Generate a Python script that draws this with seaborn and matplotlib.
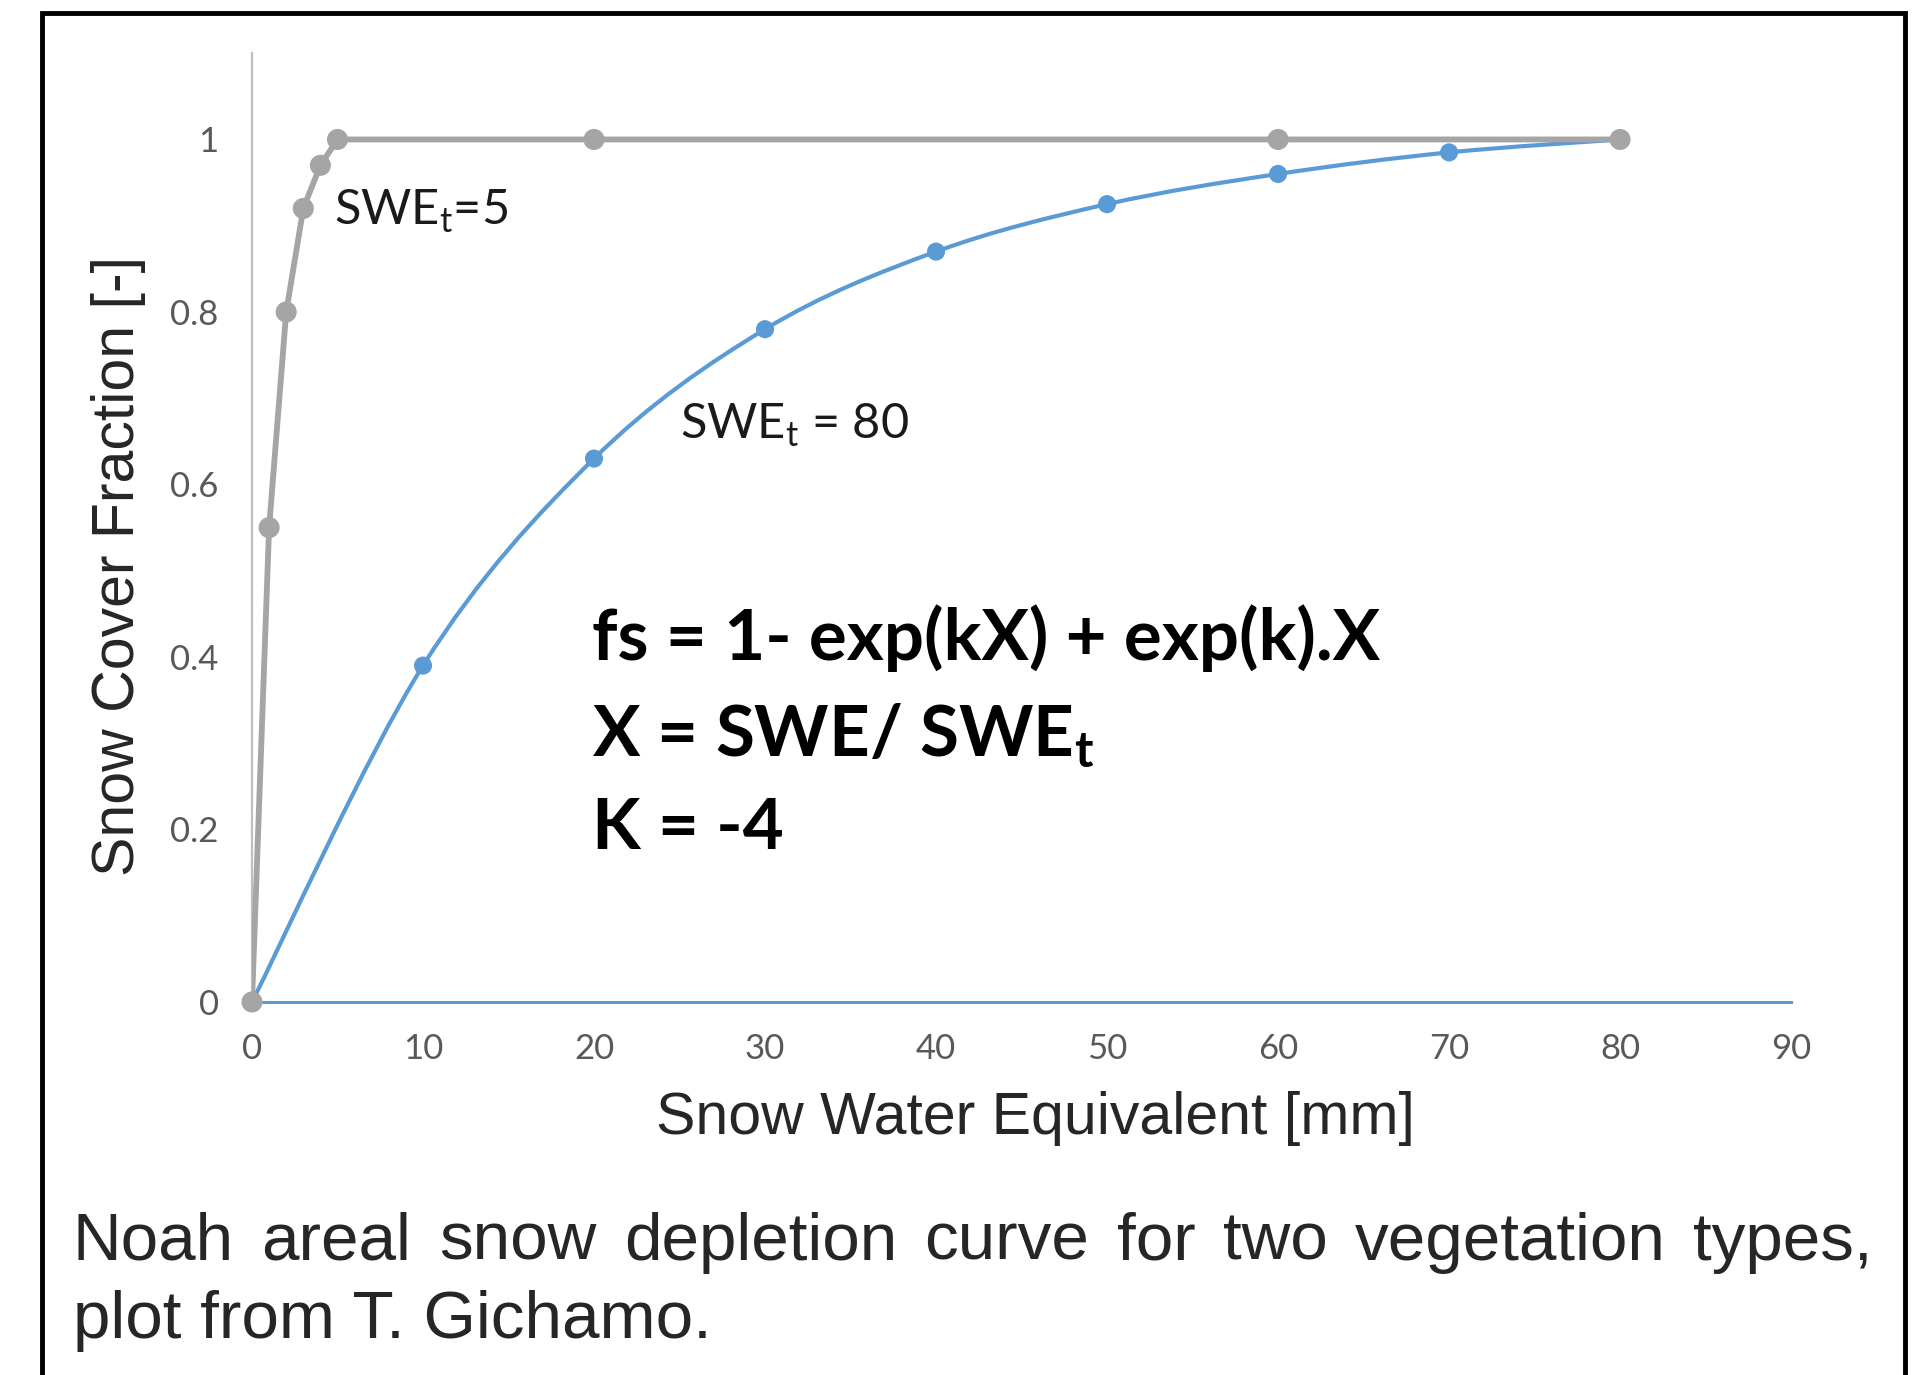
import numpy as np
import pandas as pd
import seaborn as sns
import matplotlib.pyplot as plt
from matplotlib.path import Path
from matplotlib.patches import PathPatch, Rectangle

# values
swe_small = [0, 1, 2, 3, 4, 5, 20, 60, 80]
fsc_small = [0, 0.55, 0.80, 0.92, 0.97, 1.0, 1.0, 1.0, 1.0]
swe_large = [0, 10, 20, 30, 40, 50, 60, 70, 80]
fsc_large = [0, 0.39, 0.63, 0.78, 0.87, 0.925, 0.96, 0.985, 1.0]
x_ticks = [0, 10, 20, 30, 40, 50, 60, 70, 80, 90]
y_ticks = [0, 0.2, 0.4, 0.6, 0.8, 1.0]
y_ticklabels = ["0", "0.2", "0.4", "0.6", "0.8", "1"]

caption1 = "Noah areal snow depletion curve for two vegetation types,"
caption2 = "plot from T. Gichamo."

GRAY = "#a5a5a5"
BLUE = "#5b9bd5"

sns.set_style("white")
plt.rcParams["font.family"] = ["Lato", "DejaVu Sans"]


def smooth_path(xs, ys):
    # excel-like smoothed line (catmull-rom bezier) through the points
    pts = np.column_stack([xs, ys]).astype(float)
    verts = [pts[0]]
    codes = [Path.MOVETO]
    n = len(pts)
    for i in range(n - 1):
        p0 = pts[max(i - 1, 0)]
        p1 = pts[i]
        p2 = pts[i + 1]
        p3 = pts[min(i + 2, n - 1)]
        verts += [p1 + (p2 - p0) / 6, p2 - (p3 - p1) / 6, p2]
        codes += [Path.CURVE4] * 3
    return Path(verts, codes)


fig = plt.figure(figsize=(19.2, 13.75), dpi=100)
ax = fig.add_axes([0.13125, 0.2713, 0.8016, 0.690])

df_large = pd.DataFrame({"swe": swe_large, "fsc": fsc_large})
df_small = pd.DataFrame({"swe": swe_small, "fsc": fsc_small})

# SWEt = 80 curve
ax.add_patch(PathPatch(smooth_path(swe_large, fsc_large), fill=False,
                       edgecolor=BLUE, lw=3.0, zorder=3))
sns.scatterplot(data=df_large, x="swe", y="fsc", ax=ax, color=BLUE, s=170,
                edgecolor="none", zorder=4, clip_on=False)

# SWEt = 5 curve
sns.lineplot(data=df_small, x="swe", y="fsc", ax=ax, color=GRAY, lw=4.2,
             zorder=5)
sns.scatterplot(data=df_small, x="swe", y="fsc", ax=ax, color=GRAY, s=230,
                edgecolor="none", zorder=6, clip_on=False)

ax.set_xlim(0, 90)
ax.set_ylim(0, 1.1)
ax.set_xticks(x_ticks)
ax.set_yticks(y_ticks)
ax.set_yticklabels(y_ticklabels)
ax.tick_params(axis="both", length=0, labelsize=25, colors="#595959")
ax.tick_params(axis="y", pad=24)
ax.tick_params(axis="x", pad=22)
ax.set_xlabel("")
ax.set_ylabel("")
for side in ["top", "right"]:
    ax.spines[side].set_visible(False)
ax.spines["left"].set_color("#bfbfbf")
ax.spines["left"].set_linewidth(1.6)
ax.spines["bottom"].set_color(BLUE)
ax.spines["bottom"].set_linewidth(2.2)
ax.spines["bottom"].set_zorder(2)
ax.patch.set_alpha(0)

# annotations
ax.text(4.8, 0.901, r"SWE$_\mathregular{t}$=5", fontsize=35, color="#1a1a1a")
ax.text(25.0, 0.653, r"SWE$_\mathregular{t}$ = 80", fontsize=35, color="#1a1a1a")
ax.text(19.9, 0.397, "fs = 1- exp(kX) + exp(k).X", fontsize=51,
        fontweight="bold", color="black")
ax.text(19.9, 0.286, r"X = SWE/ SWE$_\mathregular{t}$", fontsize=51,
        fontweight="bold", color="black")
ax.text(19.9, 0.177, "K = -4", fontsize=51, fontweight="bold", color="black")

# axis titles
fig.text(119 / 1920, 1 - 566 / 1375, "Snow Cover Fraction [-]", rotation=90,
         fontsize=42.5, family="Liberation Sans", ha="center", va="center")
fig.text(1035 / 1920, 1 - 1118 / 1375, "Snow Water Equivalent [mm]",
         fontsize=42.5, family="Liberation Sans", ha="center", va="center")

# caption, first line justified
fig.canvas.draw()
renderer = fig.canvas.get_renderer()
words = caption1.split()
x_left, x_right = 73 / 1920, 1873 / 1920
y1 = 1 - 1260 / 1375
word_texts = [fig.text(x_left, y1, w, fontsize=48.5, family="Liberation Sans",
                       va="baseline") for w in words]
widths = [t.get_window_extent(renderer).width / 1920 for t in word_texts]
gap = (x_right - x_left - sum(widths)) / (len(words) - 1)
pos = x_left
for t, w in zip(word_texts, widths):
    t.set_x(pos)
    pos += w + gap
fig.text(x_left, 1 - 1338 / 1375, caption2, fontsize=48.5,
         family="Liberation Sans", va="baseline")

# frame around the figure panel
fig.add_artist(Rectangle((42 / 1920, -0.1), (1905 - 42) / 1920,
                         1.1 - 13 / 1375, transform=fig.transFigure,
                         fill=False, edgecolor="black", lw=3.5))

fig.savefig("out.png", dpi=100)
